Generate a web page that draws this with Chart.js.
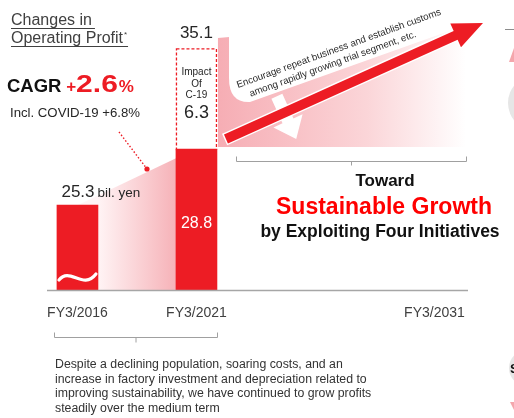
<!DOCTYPE html>
<html>
<head>
<meta charset="utf-8">
<script src="https://cdn.jsdelivr.net/npm/chart.js@4.4.1/dist/chart.umd.min.js"></script>
<style>
    html, body { margin: 0; padding: 0; background: #fff; }
    #wrap { width: 514px; height: 418px; }
</style>
</head>
<body>
<div id="wrap"><canvas id="profitChart" width="514" height="418"></canvas></div>
<script>
// data (bil. yen)
const fiscalYears = [2016, 2021, 2031];
const yearLabels = ['FY3/2016', 'FY3/2021', 'FY3/2031'];
const operatingProfit = [25.3, 28.8, null];
const covidImpact = [null, 6.3, null];
const profitLabels = ['25.3', '28.8', ''];
const totalLabels = ['', '35.1', ''];
const impactLabels = ['', '6.3', ''];
const yRange = [20, 38];          // axis is broken below the first bar
const xRange = [2014.72, 2032.41];

const RED = '#ED1C24';
const FONT = '"Liberation Sans", Arial, sans-serif';

function txt(ctx, s, x, y, size, color, opts = {}) {
    ctx.save();
    ctx.font = (opts.bold ? 'bold ' : '') + size + 'px ' + FONT;
    ctx.fillStyle = color;
    ctx.textAlign = opts.align || 'left';
    ctx.textBaseline = 'alphabetic';
    if (opts.sx) {
        ctx.translate(x, y);
        ctx.scale(opts.sx, 1);
        ctx.fillText(s, 0, 0);
    } else {
        ctx.fillText(s, x, y);
    }
    const w = ctx.measureText(s).width * (opts.sx || 1);
    ctx.restore();
    return w;
}

function bracket(ctx, x0, x1, y, up, down) {
    const mid = (x0 + x1) / 2;
    ctx.beginPath();
    ctx.moveTo(x0, y - up);
    ctx.lineTo(x0, y);
    ctx.lineTo(x1, y);
    ctx.lineTo(x1, y - up);
    ctx.moveTo(mid, y);
    ctx.lineTo(mid, y + down);
    ctx.stroke();
}

/**
 * shaded areas behind the bars, then everything drawn on top of them
 */
const backdropPlugin = {
    id: 'backdrop',
    beforeDatasetsDraw(chart) {
        const ctx = chart.ctx;
        const ys = chart.scales.y;
        const bars = chart.getDatasetMeta(0).data;
        const b1 = bars[0], b2 = bars[1];
        const b2Left = b2.x - b2.width / 2;
        const b2Right = b2.x + b2.width / 2;

        // between FY2016 and FY2021
        ctx.save();
        let g = ctx.createLinearGradient(b1.x + b1.width / 2, 0, b2Left, 0);
        g.addColorStop(0, '#FFF4F5');
        g.addColorStop(1, '#F6B2B8');
        ctx.fillStyle = g;
        ctx.beginPath();
        ctx.moveTo(b1.x, b1.y);
        ctx.lineTo(b2Left, b2.y + 9);
        ctx.lineTo(b2Left, ys.bottom);
        ctx.lineTo(b1.x, ys.bottom);
        ctx.closePath();
        ctx.fill();

        // growth wedge after FY2021
        g = ctx.createLinearGradient(b2Right, 0, 466, 0);
        g.addColorStop(0, '#F6ADB4');
        g.addColorStop(0.6, '#FBD5D8');
        g.addColorStop(1, '#FFFFFF');
        ctx.fillStyle = g;
        ctx.beginPath();
        ctx.moveTo(b2Right + 1, 38);
        ctx.lineTo(466, 16);
        ctx.lineTo(466, 147);
        ctx.lineTo(b2Right + 1, 147);
        ctx.closePath();
        ctx.fill();

        // white callout box over the wedge
        ctx.fillStyle = '#fff';
        ctx.beginPath();
        ctx.moveTo(229, 0);
        ctx.lineTo(229, 78);
        ctx.quadraticCurveTo(229, 103, 250, 102);
        ctx.lineTo(480, 20);
        ctx.lineTo(480, 0);
        ctx.closePath();
        ctx.fill();
        ctx.restore();
    },

    afterDatasetsDraw(chart) {
        const ctx = chart.ctx;
        const xs = chart.scales.x, ys = chart.scales.y;
        const bars = chart.getDatasetMeta(0).data;
        const covid = chart.getDatasetMeta(1).data[1];
        const b1 = bars[0], b2 = bars[1];

        ctx.save();

        // dashed outline of the covid impact
        ctx.strokeStyle = RED;
        ctx.lineWidth = 1.3;
        ctx.setLineDash([3, 2]);
        ctx.strokeRect(covid.x - covid.width / 2 + 0.5, covid.y + 0.5, covid.width - 1, covid.base - covid.y);
        ctx.setLineDash([]);

        // axis break on the first bar
        ctx.strokeStyle = '#fff';
        ctx.lineWidth = 3.2;
        ctx.lineCap = 'round';
        const wx0 = b1.x - b1.width / 2 + 2, wx1 = b1.x + b1.width / 2 - 2, wy = 277;
        ctx.beginPath();
        ctx.moveTo(wx0, wy + 3);
        ctx.bezierCurveTo(wx0 + 11, wy - 11, wx0 + 24, wy + 14, wx1, wy - 3);
        ctx.stroke();
        ctx.lineCap = 'butt';

        // baseline
        ctx.strokeStyle = '#A6A6A6';
        ctx.lineWidth = 1.5;
        ctx.beginPath();
        ctx.moveTo(xs.left, ys.bottom + 0.5);
        ctx.lineTo(xs.right, ys.bottom + 0.5);
        ctx.stroke();

        // category labels
        fiscalYears.forEach((yr, i) => {
            txt(ctx, yearLabels[i], xs.getPixelForValue(yr), 317, 14, '#404040', { align: 'center' });
        });

        // value labels
        txt(ctx, profitLabels[0], b1.x - 16, b1.y - 8, 17, '#262626');
        txt(ctx, 'bil. yen', b1.x + 20, b1.y - 8, 13.5, '#262626');
        txt(ctx, totalLabels[1], covid.x, covid.y - 10, 17, '#262626', { align: 'center' });
        txt(ctx, 'Impact', covid.x, covid.y + 27, 10, '#262626', { align: 'center' });
        txt(ctx, 'Of', covid.x, covid.y + 39, 10, '#262626', { align: 'center' });
        txt(ctx, 'C-19', covid.x, covid.y + 50, 10, '#262626', { align: 'center' });
        txt(ctx, impactLabels[1], covid.x, covid.y + 70, 18, '#262626', { align: 'center' });
        txt(ctx, profitLabels[1], b2.x, b2.y + 79, 16, '#FFFFFF', { align: 'center' });

        // dotted pointer to the slope
        ctx.strokeStyle = RED;
        ctx.fillStyle = RED;
        ctx.lineWidth = 1.4;
        ctx.setLineDash([1.5, 2]);
        ctx.beginPath();
        ctx.moveTo(119, 132);
        ctx.lineTo(147, 169);
        ctx.stroke();
        ctx.setLineDash([]);
        ctx.beginPath();
        ctx.arc(147, 169, 2.6, 0, Math.PI * 2);
        ctx.fill();

        // callout text
        ctx.save();
        ctx.translate(238, 88);
        ctx.rotate(Math.atan2(-72, 199));
        txt(ctx, 'Encourage repeat business and establish customs', 0, 0, 9.7, '#262626');
        txt(ctx, 'among rapidly growing trial segment, etc.', 9, 12.5, 9.7, '#262626');
        ctx.restore();

        // growth arrow with its white pointer
        const ox = b2.x + b2.width / 2 + 9, oy = 139;
        const ang = Math.atan2(23 - oy, 483 - ox);
        const len = Math.hypot(483 - ox, 23 - oy);
        ctx.save();
        ctx.translate(ox, oy);
        ctx.rotate(ang);
        ctx.fillStyle = '#fff';
        ctx.beginPath();
        ctx.moveTo(58, -18);
        ctx.lineTo(70, -18);
        ctx.lineTo(70, 9);
        ctx.lineTo(80, 9);
        ctx.lineTo(64, 29);
        ctx.lineTo(48, 9);
        ctx.lineTo(58, 9);
        ctx.closePath();
        ctx.fill();

        const headL = 30, headW = 13, shaftW = 4.8;
        ctx.beginPath();
        ctx.moveTo(0, -shaftW);
        ctx.lineTo(len - headL, -shaftW);
        ctx.lineTo(len - headL, -headW);
        ctx.lineTo(len, 0);
        ctx.lineTo(len - headL, headW);
        ctx.lineTo(len - headL, shaftW);
        ctx.lineTo(0, shaftW);
        ctx.closePath();
        ctx.strokeStyle = '#fff';
        ctx.lineWidth = 3;
        ctx.stroke();
        ctx.fillStyle = RED;
        ctx.fill();
        ctx.restore();

        // brackets
        ctx.strokeStyle = '#A0A0A0';
        ctx.lineWidth = 1;
        bracket(ctx, 236.5, 466.5, 161.5, 5, 4);
        bracket(ctx, 54.5, 217.5, 337.5, 5, 5);

        // right-hand message
        txt(ctx, 'Toward', 385, 186, 17, '#111', { bold: true, align: 'center' });
        txt(ctx, 'Sustainable Growth', 384, 214, 23, '#FF0000', { bold: true, align: 'center' });
        txt(ctx, 'by Exploiting Four Initiatives', 380, 237, 17.5, '#111', { bold: true, align: 'center' });

        // heading
        let w = txt(ctx, 'Changes in', 11, 25, 16, '#404040');
        ctx.strokeStyle = '#404040';
        ctx.lineWidth = 1;
        ctx.beginPath();
        ctx.moveTo(11, 28.5); ctx.lineTo(11 + w + 3, 28.5);
        w = txt(ctx, 'Operating Profit', 11, 43, 16, '#404040');
        ctx.moveTo(11, 46.5); ctx.lineTo(11 + w + 5, 46.5);
        ctx.stroke();
        txt(ctx, '*', 11 + w + 1, 37, 8, '#404040');

        // CAGR
        let cx = 7;
        cx += txt(ctx, 'CAGR', cx, 92, 18.5, '#111', { bold: true });
        cx += txt(ctx, ' +', cx, 92, 17, RED, { bold: true });
        cx += txt(ctx, '2.6', cx, 92, 24, RED, { bold: true, sx: 1.25 });
        txt(ctx, '%', cx + 1, 92, 17, RED, { bold: true });
        txt(ctx, 'Incl. COVID-19 +6.8%', 10, 117, 13.2, '#262626');

        // note
        const note = [
            'Despite a declining population, soaring costs, and an',
            'increase in factory investment and depreciation related to',
            'improving sustainability, we have continued to grow profits',
            'steadily over the medium term'
        ];
        note.forEach((line, i) => txt(ctx, line, 55, 368 + i * 14.5, 12.3, '#333'));

        // pieces of the neighbouring panel at the slide edge
        ctx.strokeStyle = '#8C8C8C';
        ctx.beginPath();
        ctx.moveTo(505, 29.5); ctx.lineTo(514, 29.5);
        ctx.stroke();
        ctx.fillStyle = '#F4A6AC';
        ctx.beginPath();
        ctx.moveTo(514, 48); ctx.lineTo(514, 62); ctx.lineTo(509, 62);
        ctx.closePath();
        ctx.fill();
        ctx.fillStyle = '#E6E6E6';
        ctx.beginPath();
        ctx.arc(536, 103, 28, 0, Math.PI * 2);
        ctx.fill();
        ctx.beginPath();
        ctx.arc(527, 368, 18, 0, Math.PI * 2);
        ctx.fill();
        txt(ctx, 'S', 510, 373, 13, '#111', { bold: true });
        ctx.fillStyle = '#F4A6AC';
        ctx.beginPath();
        ctx.moveTo(510, 402); ctx.lineTo(514, 402); ctx.lineTo(514, 410);
        ctx.closePath();
        ctx.fill();

        ctx.restore();
    }
};

function initializeChart() {
    const canvas = document.querySelector('#profitChart');
    new Chart(canvas, {
        type: 'bar',
        data: {
            datasets: [
                {
                    label: 'Operating profit',
                    data: fiscalYears.map((yr, i) => ({ x: yr, y: operatingProfit[i] })),
                    backgroundColor: RED,
                    base: yRange[0],
                    barThickness: 41
                },
                {
                    label: 'Impact of C-19',
                    data: fiscalYears.map((yr, i) => ({
                        x: yr,
                        y: covidImpact[i] == null ? null : [operatingProfit[i], operatingProfit[i] + covidImpact[i]]
                    })),
                    backgroundColor: '#FFFFFF',
                    barThickness: 41
                }
            ]
        },
        options: {
            responsive: false,
            animation: false,
            layout: { padding: { left: 47, right: 46, top: 2, bottom: 128 } },
            datasets: { bar: { grouped: false } },
            scales: {
                x: { type: 'linear', offset: false, min: xRange[0], max: xRange[1], display: false },
                y: { min: yRange[0], max: yRange[1], display: false }
            },
            plugins: {
                legend: { display: false },
                tooltip: { enabled: false }
            }
        },
        plugins: [backdropPlugin]
    });
}

document.addEventListener('DOMContentLoaded', initializeChart);
</script>
</body>
</html>
